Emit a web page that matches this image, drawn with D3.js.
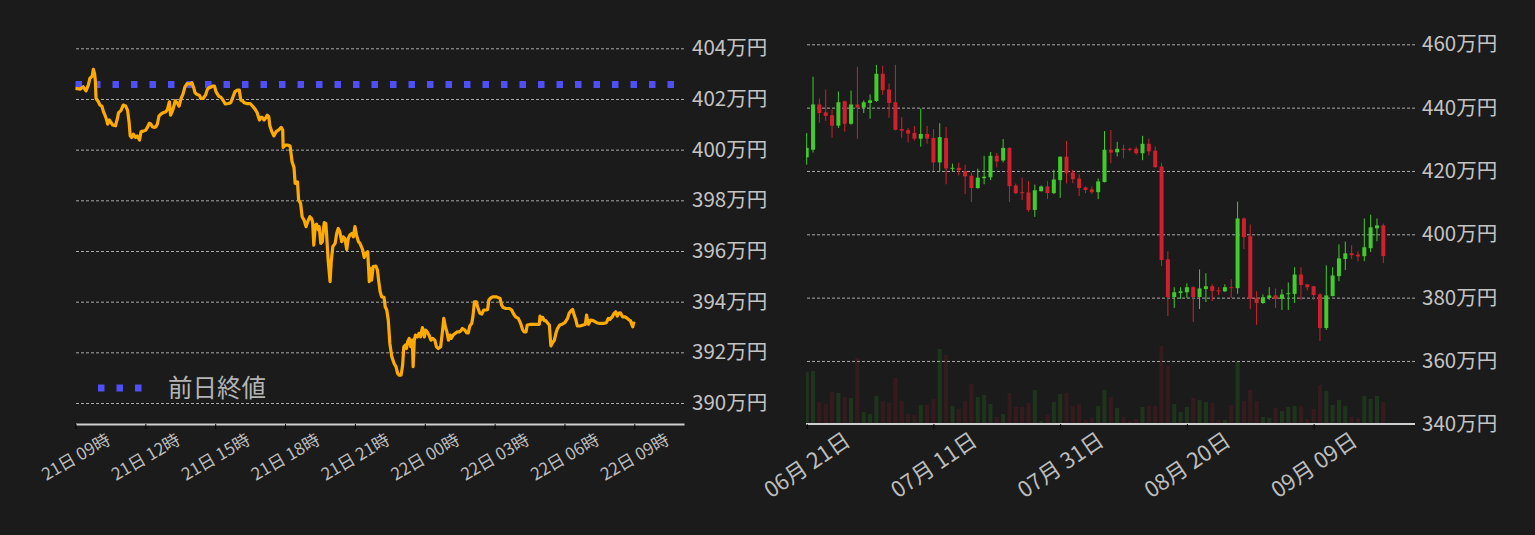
<!DOCTYPE html>
<html>
<head>
<meta charset="utf-8">
<script src="https://cdn.jsdelivr.net/npm/d3@7"></script>
<style>
  body { margin: 0; background: #1b1b1b; }
  text { font-family: "Noto Sans CJK JP", "Noto Sans", sans-serif; }
</style>
</head>
<body>
<div id="chart"></div>
<script>
// ---- intraday (left): minutes after 21日 09:00, price in 万円
const intradayMinutes = [
  0, 12, 20, 27, 33, 37, 43, 46, 49, 51, 53, 59, 63, 68, 72, 76, 80, 83, 87, 92,
  96, 103, 108, 111, 117, 123, 129, 134, 138, 141, 145, 149, 155, 159, 165, 169, 175, 181, 186, 190,
  194, 198, 202, 207, 211, 215, 220, 226, 233, 237, 242, 245, 249, 252, 257, 262, 267, 272, 277, 282,
  288, 295, 300, 305, 308, 312, 319, 323, 329, 335, 340, 345, 348, 353, 358, 362, 369, 375, 381, 386,
  394, 400, 406, 411, 417, 422, 426, 430, 435, 441, 450, 456, 463, 468, 474, 477, 481, 486, 491, 494,
  498, 501, 506, 511, 517, 523, 530, 534, 535, 541, 546, 553, 558, 563, 566, 572, 575, 580, 584, 589,
  594, 600, 604, 608, 611, 614, 618, 621, 626, 628, 632, 636, 639, 641, 645, 647, 651, 656, 659, 663,
  669, 673, 677, 681, 686, 690, 694, 699, 703, 707, 712, 716, 720, 724, 729, 733, 740, 744, 748, 753,
  755, 757, 760, 763, 767, 774, 778, 781, 785, 789, 795, 798, 802, 806, 810, 815, 821, 826, 830, 834,
  839, 843, 846, 850, 853, 856, 860, 864, 868, 870, 873, 876, 881, 885, 889, 894, 899, 902, 906, 911,
  916, 920, 926, 930, 935, 941, 945, 949, 953, 957, 961, 965, 968, 973, 979, 984, 989, 993, 997, 1003,
  1008, 1012, 1016, 1021, 1024, 1028, 1033, 1036, 1042, 1047, 1052, 1058, 1062, 1065, 1070, 1075, 1085, 1094, 1098, 1102,
  1109, 1118, 1124, 1128, 1134, 1141, 1147, 1152, 1156, 1161, 1164, 1171, 1180, 1188, 1195, 1197, 1199, 1204, 1208, 1212,
  1216, 1221, 1225, 1228, 1234, 1238, 1242, 1248, 1254, 1261, 1268, 1272, 1277, 1281, 1285, 1289, 1293, 1300, 1308, 1314,
  1317, 1319, 1322, 1327, 1334, 1343, 1351, 1360, 1368, 1373, 1377, 1383, 1388, 1392, 1396, 1400, 1404, 1410, 1416, 1422,
  1427, 1430, 1434, 1436, 1439
];
const intradayPrices = [
  402.42, 402.39, 402.48, 402.32, 402.55, 402.81, 402.90, 403.17, 403.01, 402.75, 402.02, 401.89, 401.76, 401.72, 401.50, 401.36, 401.19, 401.01, 401.17, 401.06,
  400.97, 400.94, 401.23, 401.46, 401.54, 401.76, 401.72, 401.56, 401.10, 400.54, 400.48, 400.61, 400.48, 400.54, 400.38, 400.71, 400.73, 400.77, 400.90, 401.04,
  401.01, 400.90, 400.88, 400.90, 401.01, 401.32, 401.40, 401.46, 401.50, 401.59, 401.89, 401.36, 401.50, 401.63, 401.93, 401.85, 401.72, 402.02, 402.19, 402.48,
  402.61, 402.59, 402.64, 402.42, 402.25, 402.19, 402.15, 402.02, 402.02, 402.15, 402.38, 402.46, 402.46, 402.51, 402.51, 402.29, 402.11, 402.06, 401.93, 401.80,
  401.82, 401.85, 402.09, 402.29, 402.35, 402.35, 401.96, 401.93, 401.85, 401.82, 401.82, 401.72, 401.59, 401.46, 401.17, 401.27, 401.27, 401.17, 401.27, 401.36,
  401.30, 400.93, 400.71, 400.54, 400.71, 400.77, 400.88, 400.77, 400.09, 400.18, 400.18, 400.14, 399.52, 399.30, 398.67, 398.73, 398.01, 397.88, 397.35, 397.22,
  396.96, 397.22, 397.35, 397.29, 397.15, 396.23, 397.02, 397.06, 396.83, 396.96, 396.30, 396.37, 396.89, 397.12, 397.09, 396.69, 395.64, 394.79, 395.58, 396.17,
  396.30, 396.69, 396.89, 396.76, 396.37, 396.56, 396.50, 396.06, 396.50, 396.63, 396.69, 396.56, 396.96, 396.63, 396.37, 396.30, 396.04, 395.75, 395.90, 395.97,
  395.38, 394.79, 395.31, 394.85, 395.38, 395.40, 395.25, 394.85, 394.39, 394.19, 394.17, 393.80, 393.67, 393.27, 392.35, 391.83, 391.56, 391.43, 391.17, 391.10,
  391.10, 391.50, 392.22, 392.29, 392.15, 392.42, 392.55, 392.22, 392.48, 391.43, 392.48, 392.68, 392.61, 392.75, 392.61, 392.98, 392.61, 392.88, 392.81, 392.68,
  392.48, 392.55, 392.48, 392.22, 392.15, 392.22, 392.75, 393.34, 393.01, 392.81, 392.48, 392.68, 392.55, 392.68, 392.75, 392.81, 392.81, 392.85, 392.94, 392.88,
  392.77, 392.77, 393.04, 393.14, 393.40, 393.99, 393.99, 393.80, 393.54, 393.51, 393.67, 393.67, 393.69, 394.06, 394.15, 394.19, 394.19, 394.13, 393.86, 393.77,
  393.73, 393.73, 393.67, 393.54, 393.40, 393.34, 393.14, 392.90, 392.81, 392.81, 393.08, 393.10, 393.10, 393.10, 393.10, 393.43, 393.27, 393.38, 393.25, 393.25,
  393.17, 393.08, 392.25, 392.35, 392.48, 392.75, 392.94, 393.08, 393.11, 393.17, 393.34, 393.54, 393.64, 393.69, 393.47, 393.30, 393.04, 393.04, 393.08, 393.11,
  393.47, 393.27, 393.11, 393.27, 393.25, 393.17, 393.14, 393.14, 393.17, 393.34, 393.30, 393.40, 393.54, 393.60, 393.43, 393.54, 393.56, 393.40, 393.40, 393.34,
  393.27, 393.25, 393.08, 393.01, 393.21
];
const prevClose = 402.57;
const intradayTicks = ["2023-09-21T09:00", "2023-09-21T12:00", "2023-09-21T15:00", "2023-09-21T18:00",
  "2023-09-21T21:00", "2023-09-22T00:00", "2023-09-22T03:00", "2023-09-22T06:00", "2023-09-22T09:00"];
const intradayYTicks = [390, 392, 394, 396, 398, 400, 402, 404];

// ---- daily candles (right): 06/21 .. 09/20, price in 万円
const candleOpen = [
  424.3, 426.7, 441.0, 438.5, 437.6, 434.3, 442.0, 434.9, 441.0, 440.0, 441.5, 442.1, 450.7, 445.7, 441.7, 433.2, 432.9, 432.0, 430.2, 431.7,
  430.4, 422.7, 430.4, 420.8, 421.0, 419.9, 418.5, 414.6, 417.7, 418.0, 424.8, 423.3, 427.3, 415.4, 413.3, 413.2, 407.7, 413.6, 415.1, 413.0,
  417.1, 424.5, 419.5, 417.6, 414.8, 414.2, 413.3, 416.5, 426.7, 425.9, 427.0, 427.0, 427.0, 425.6, 428.6, 426.4, 421.4, 392.1, 380.2, 381.5,
  381.7, 383.3, 380.2, 382.7, 383.6, 382.3, 382.0, 383.3, 383.0, 405.0, 399.4, 379.8, 378.3, 379.9, 380.7, 379.6, 381.2, 381.2, 387.3, 384.2,
  383.6, 381.0, 370.4, 380.5, 386.8, 392.2, 394.0, 393.6, 393.1, 395.6, 401.9, 402.8
];
const candleHigh = [
  432.0, 449.8, 442.9, 445.7, 439.4, 445.1, 442.2, 445.4, 452.9, 442.3, 444.2, 453.5, 453.2, 447.6, 453.5, 437.0, 433.6, 434.2, 439.7, 434.2,
  433.2, 435.1, 433.9, 422.3, 422.6, 422.0, 419.5, 420.7, 424.8, 426.0, 425.7, 430.1, 427.5, 416.0, 417.9, 416.8, 415.7, 415.4, 416.8, 420.4,
  424.6, 429.5, 420.4, 418.9, 415.1, 415.1, 417.6, 432.6, 432.9, 429.2, 428.3, 427.4, 427.7, 431.1, 430.2, 427.7, 422.6, 394.6, 383.3, 383.3,
  384.5, 383.6, 388.9, 387.7, 384.2, 383.3, 384.2, 385.8, 410.3, 405.3, 403.1, 382.0, 381.0, 383.3, 382.9, 382.6, 384.8, 389.6, 389.6, 384.3,
  383.7, 381.4, 390.2, 389.6, 396.8, 397.7, 396.5, 394.6, 405.0, 406.2, 405.0, 403.4
];
const candleLow = [
  422.0, 425.8, 435.2, 435.8, 430.5, 433.6, 432.4, 434.6, 430.2, 438.3, 436.5, 441.8, 444.0, 436.8, 432.8, 430.5, 429.0, 429.6, 427.7, 428.6,
  420.0, 419.9, 415.8, 419.9, 418.6, 412.7, 410.2, 414.4, 415.8, 417.1, 421.1, 422.7, 410.2, 412.7, 410.8, 407.1, 405.5, 413.5, 411.1, 412.7,
  411.5, 416.1, 416.1, 412.1, 413.0, 412.7, 411.1, 416.4, 422.4, 424.6, 424.0, 426.2, 425.1, 423.4, 424.9, 421.0, 390.0, 374.2, 376.7, 379.6,
  379.9, 372.3, 376.4, 378.6, 378.9, 380.8, 381.8, 379.9, 381.2, 395.3, 376.4, 371.4, 378.0, 379.3, 376.7, 376.1, 376.1, 378.3, 379.3, 382.3,
  379.3, 366.3, 369.8, 380.4, 385.2, 388.7, 392.2, 391.5, 391.5, 394.4, 397.8, 390.9
];
const candleClose = [
  427.3, 441.0, 438.3, 437.4, 434.3, 441.7, 434.9, 441.0, 440.0, 441.7, 442.3, 450.7, 445.5, 441.5, 433.0, 432.7, 431.8, 430.2, 431.7, 430.2,
  422.7, 430.7, 420.8, 421.0, 420.2, 418.3, 414.6, 417.9, 418.2, 424.8, 423.0, 427.3, 415.2, 413.0, 413.0, 407.7, 413.9, 415.1, 413.0, 417.3,
  424.5, 419.3, 417.4, 414.6, 414.0, 413.3, 416.7, 426.7, 425.8, 427.0, 426.8, 426.7, 425.6, 428.6, 426.2, 421.2, 391.9, 380.2, 381.7, 382.0,
  383.3, 380.2, 382.9, 383.6, 382.1, 382.0, 383.3, 383.0, 405.0, 399.1, 379.6, 378.3, 380.1, 380.7, 379.6, 381.0, 381.4, 387.3, 384.0, 383.3,
  380.8, 370.4, 380.7, 387.0, 392.4, 394.0, 393.4, 393.0, 395.9, 402.2, 402.8, 393.1
];
const candleVolume = [
  156, 159, 66, 60, 96, 93, 81, 78, 198, 36, 30, 84, 69, 63, 138, 69, 30, 27, 57, 57,
  75, 225, 207, 54, 45, 69, 120, 81, 87, 60, 21, 30, 93, 51, 51, 63, 102, 9, 27, 66,
  90, 93, 54, 60, 12, 18, 54, 102, 81, 48, 21, 9, 15, 51, 54, 54, 234, 174, 60, 36,
  51, 78, 72, 66, 63, 12, 12, 57, 186, 69, 102, 69, 21, 18, 48, 39, 51, 54, 54, 15,
  45, 117, 99, 57, 72, 54, 21, 18, 84, 75, 84, 66
];
const dailyTicks = ["2023-06-21", "2023-07-11", "2023-07-31", "2023-08-20", "2023-09-09"];
const dailyYTicks = [340, 360, 380, 400, 420, 440, 460];

const BG = "#1b1b1b";
const UP = "#3fcc2c";
const DOWN = "#d0202e";
const LABEL_SIZE = 20.5;

const svg = d3.select("#chart").append("svg")
  .attr("width", 1535)
  .attr("height", 535)
  .style("background", BG);

function styleGrid(g) {
  g.select(".domain").remove();
  g.selectAll(".tick line")
    .attr("stroke", "#aaa")
    .attr("stroke-width", 1)
    .attr("stroke-dasharray", "3,2");
  g.selectAll(".tick text")
    .attr("fill", "#c4c4c4")
    .style("font-size", LABEL_SIZE + "px");
}

function styleTimeAxis(g, angle, offset, size) {
  g.select(".domain").attr("stroke", "#d0d0d0").attr("stroke-width", 2);
  g.selectAll(".tick line").attr("stroke", "#000");
  g.selectAll(".tick text")
    .attr("fill", "#bdbdbd")
    .style("font-size", size + "px")
    .attr("y", 0)
    .attr("dy", "0.35em")
    .attr("text-anchor", "middle")
    .attr("transform", `translate(0,${offset}) rotate(${angle})`);
}

// ================= left: intraday line =================
const parseMin = d3.timeParse("%Y-%m-%dT%H:%M");
const t0 = parseMin("2023-09-21T09:00");
const left = { x0: 75.5, x1: 684, bottom: 424 };

const xL = d3.scaleTime()
  .domain([t0, d3.timeMinute.offset(t0, 1568)])
  .range([left.x0, left.x1]);
const yL = d3.scaleLinear().domain([390, 404]).range([403, 48.3]);

svg.append("g")
  .attr("transform", `translate(${left.x1},0)`)
  .call(d3.axisRight(yL)
    .tickValues(intradayYTicks)
    .tickSize(-(left.x1 - left.x0))
    .tickPadding(8)
    .tickFormat((d) => d + "万円"))
  .call(styleGrid);

svg.append("g")
  .attr("transform", `translate(0,${left.bottom})`)
  .call(d3.axisBottom(xL)
    .tickValues(intradayTicks.map(parseMin))
    .tickSizeInner(5)
    .tickSizeOuter(0)
    .tickFormat(d3.timeFormat("%d日 %H時")))
  .call((g) => styleTimeAxis(g, -30, 33, 17));

// previous close
svg.append("line")
  .attr("x1", left.x0)
  .attr("x2", left.x1)
  .attr("y1", yL(prevClose))
  .attr("y2", yL(prevClose))
  .attr("stroke", "#4f4ff7")
  .attr("stroke-width", 7)
  .attr("stroke-dasharray", "6.5,12");

const line = d3.line()
  .x((d) => xL(d3.timeMinute.offset(t0, d[0])))
  .y((d) => yL(d[1]));

svg.append("path")
  .datum(intradayMinutes.map((m, i) => [m, intradayPrices[i]]))
  .attr("fill", "none")
  .attr("stroke", "#ffaa00")
  .attr("stroke-width", 3.2)
  .attr("stroke-linejoin", "round")
  .attr("d", line);

// legend
svg.append("line")
  .attr("x1", 98).attr("x2", 143)
  .attr("y1", 388).attr("y2", 388)
  .attr("stroke", "#4f4ff7")
  .attr("stroke-width", 7)
  .attr("stroke-dasharray", "6.5,12");
svg.append("text")
  .attr("x", 168)
  .attr("y", 388)
  .attr("dy", "0.35em")
  .attr("fill", "#b4b4b4")
  .style("font-size", "24.5px")
  .text("前日終値");

// ================= right: daily candles =================
const parseDay = d3.timeParse("%Y-%m-%d");
const d0 = parseDay("2023-06-21");
const days = d3.timeDay.range(d0, d3.timeDay.offset(d0, candleOpen.length));
const right = { x0: 806, x1: 1415, bottom: 424 };

const xR = d3.scaleTime()
  .domain([d0, d3.timeDay.offset(d0, 96)])
  .range([806.7, right.x1]);
const yR = d3.scaleLinear().domain([340, 460]).range([424.3, 44.3]);
const yV = d3.scaleLinear().domain([0, 300]).range([right.bottom, right.bottom - 100]);

svg.append("g")
  .attr("transform", `translate(${right.x1},0)`)
  .call(d3.axisRight(yR)
    .tickValues(dailyYTicks.filter((d) => d > 340))
    .tickSize(-(right.x1 - right.x0))
    .tickPadding(7)
    .tickFormat((d) => d + "万円"))
  .call(styleGrid);

// bottom label of the price axis sits on the time axis
svg.append("text")
  .attr("x", right.x1 + 7)
  .attr("y", yR(340))
  .attr("dy", "0.32em")
  .attr("fill", "#c4c4c4")
  .style("font-size", LABEL_SIZE + "px")
  .text("340万円");

svg.append("clipPath").attr("id", "clipR")
  .append("rect")
  .attr("x", right.x0).attr("y", 0)
  .attr("width", right.x1 - right.x0).attr("height", right.bottom);

const plot = svg.append("g").attr("clip-path", "url(#clipR)");
const candles = days.map((d, i) => ({
  date: d,
  o: candleOpen[i], h: candleHigh[i], l: candleLow[i], c: candleClose[i],
  v: candleVolume[i],
}));
const colorOf = (d) => (d.c >= d.o ? UP : DOWN);

// volume
plot.selectAll(".vol")
  .data(candles)
  .enter()
  .append("rect")
  .attr("class", "vol")
  .attr("x", (d) => xR(d.date) - 2)
  .attr("width", 4)
  .attr("y", (d) => yV(d.v))
  .attr("height", (d) => yV(0) - yV(d.v))
  .attr("fill", colorOf)
  .attr("opacity", 0.15);

// wicks
plot.selectAll(".wick")
  .data(candles)
  .enter()
  .append("line")
  .attr("class", "wick")
  .attr("x1", (d) => xR(d.date))
  .attr("x2", (d) => xR(d.date))
  .attr("y1", (d) => yR(d.h))
  .attr("y2", (d) => yR(d.l))
  .attr("stroke", colorOf)
  .attr("stroke-width", 1);

// bodies
plot.selectAll(".body")
  .data(candles)
  .enter()
  .append("rect")
  .attr("class", "body")
  .attr("x", (d) => xR(d.date) - 2)
  .attr("width", 4)
  .attr("y", (d) => yR(Math.max(d.o, d.c)))
  .attr("height", (d) => Math.max(1, Math.abs(yR(d.o) - yR(d.c))))
  .attr("fill", colorOf);

const xAxisR = svg.append("g")
  .attr("transform", `translate(0,${right.bottom})`)
  .call(d3.axisBottom(xR)
    .tickValues(dailyTicks.map(parseDay))
    .tickSizeInner(5)
    .tickSizeOuter(0)
    .tickFormat(d3.timeFormat("%m月 %d日")))
  .call((g) => styleTimeAxis(g, -34, 41, 22));
xAxisR.select(".domain").attr("d", `M${right.x0},0H${right.x1}`);
</script>
</body>
</html>
